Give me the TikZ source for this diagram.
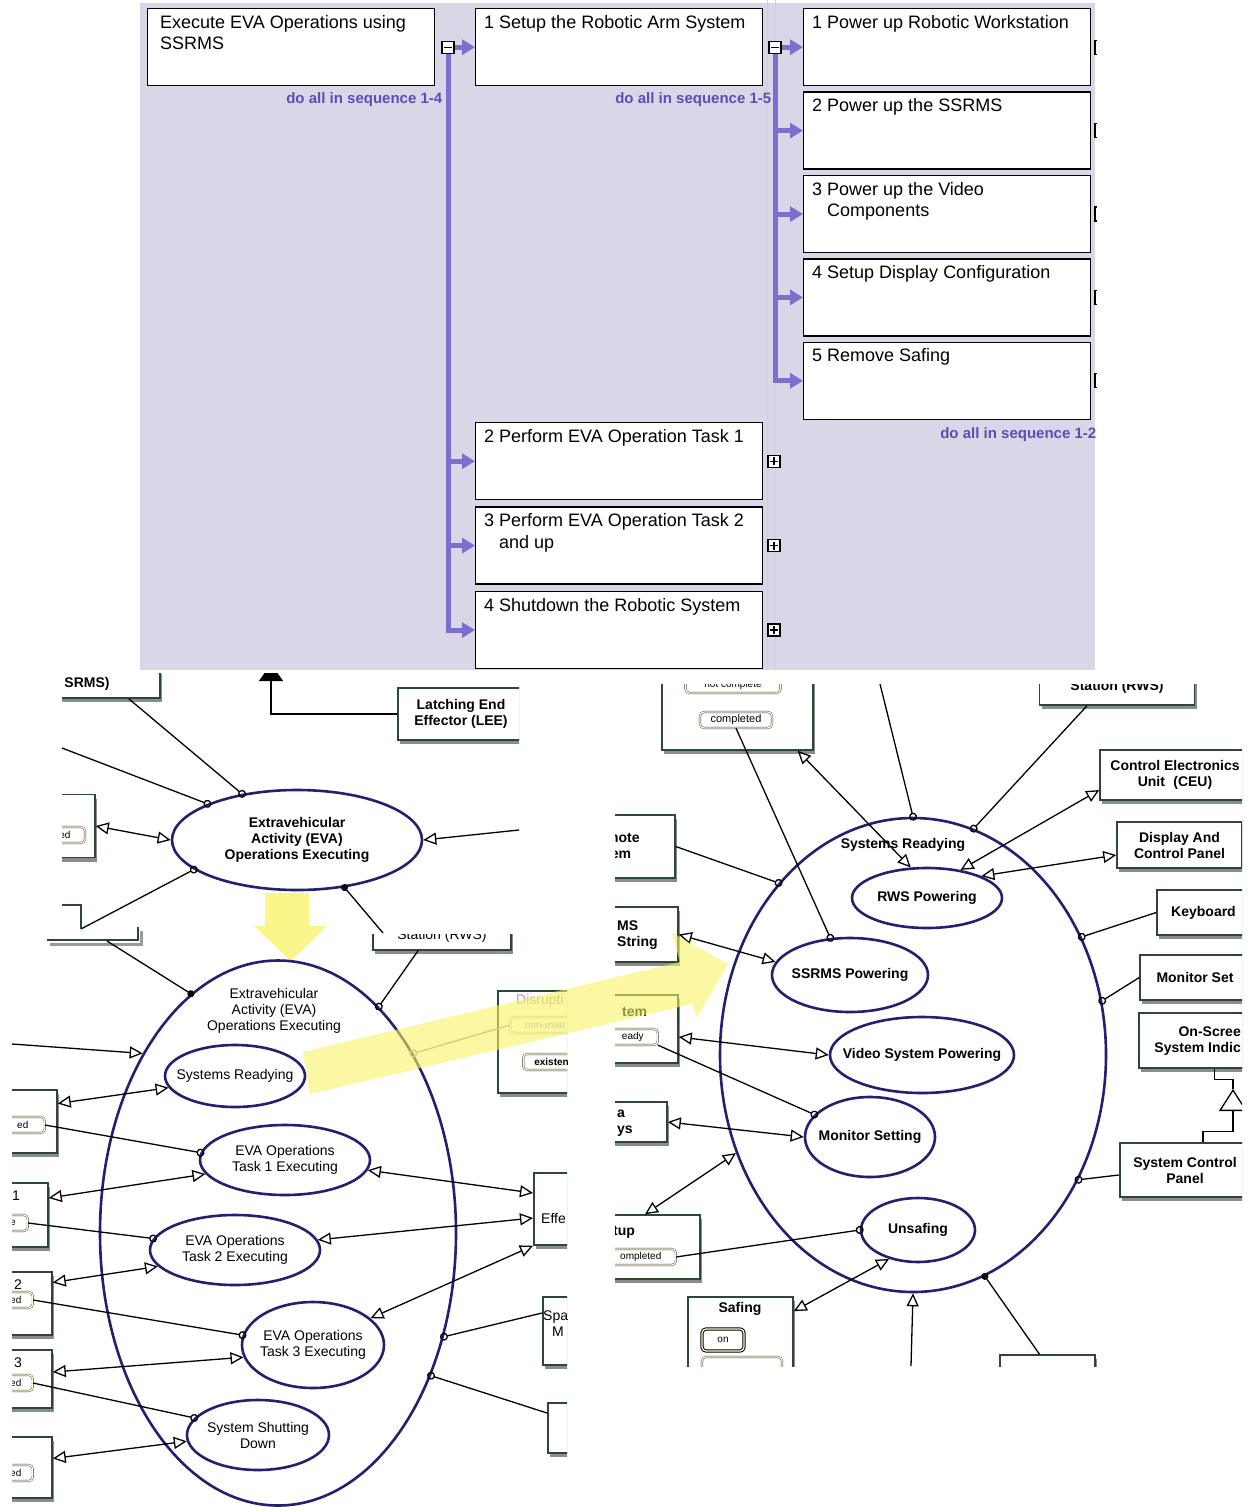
\documentclass[tikz,border=0pt]{standalone}
\usepackage{fontspec}
\setmainfont{Liberation Sans}
\usetikzlibrary{positioning,shapes.geometric,arrows.meta,shadows}

\definecolor{panelbg}{RGB}{217,215,231}
\definecolor{branchc}{RGB}{122,112,205}
\definecolor{seqc}{RGB}{88,80,180}
\definecolor{navy}{RGB}{33,33,112}
\definecolor{boxc}{RGB}{42,72,52}
\definecolor{hilite}{RGB}{250,242,100}
\definecolor{guidec}{RGB}{235,225,60}

\tikzset{
  task/.style={draw, fill=white, line width=1.4pt, minimum width=287pt, minimum height=77pt, inner sep=0pt},
  tasktext/.style={anchor=north west, xshift=9pt, yshift=-7pt, inner sep=0pt, align=left, font=\fontsize{18}{21.5}\selectfont},
  minus/.style={path picture={\draw[line width=1.2pt] ([xshift=2pt]path picture bounding box.west) -- ([xshift=-2pt]path picture bounding box.east);}},
  plus/.style={path picture={\draw[line width=1.2pt] ([xshift=2pt]path picture bounding box.west) -- ([xshift=-2pt]path picture bounding box.east) ([yshift=-2pt]path picture bounding box.north) -- ([yshift=2pt]path picture bounding box.south);}},
  toggle/.style={draw, fill=white, line width=1.3pt, minimum size=12pt, inner sep=0pt},
  branch/.style={draw=branchc, line width=5pt, -{Triangle[length=13pt,width=15pt]}},
  seq/.style={anchor=north east, inner sep=0pt, text=seqc, font=\fontsize{15}{17}\selectfont\bfseries},
  blk/.style={draw=boxc, line width=1.5pt, fill=white, inner sep=0pt, align=center, font=\fontsize{14}{16}\selectfont\bfseries, drop shadow={shadow xshift=2pt, shadow yshift=-4pt, fill=black!45, opacity=1}},
  frag/.style={anchor=west, inner sep=0pt, align=left, font=\fontsize{14}{16}\selectfont\bfseries},
  pill/.style={draw=black!75, double=yellow!15, double distance=1.3pt, fill=white, rounded corners=4pt, inner sep=2.5pt, minimum height=16pt, font=\fontsize{10}{11}\selectfont},
  state/.style={ellipse, draw=navy, line width=2.6pt, fill=white, inner sep=0pt},
  st/.style={label={[align=center, inner sep=0pt, font=\fontsize{14}{16}\selectfont]center:{#1}}},
  stb/.style={label={[align=center, inner sep=0pt, font=\fontsize{14}{16}\selectfont\bfseries]center:{#1}}},
  link/.style={line width=1.3pt},
  both/.style={link, {Triangle[open,length=13pt,width=12pt]}-{Triangle[open,length=13pt,width=12pt]}},
  into/.style={link, -{Triangle[open,length=13pt,width=12pt]}},
  ring/.style={link, -{Circle[open,length=8pt]}, shorten >=-4pt},
  blob/.style={link, -{Circle[length=7pt]}, shorten >=-3.5pt},
  guide/.style={draw=guidec, line width=0.8pt},
  glow/.style={fill=hilite, fill opacity=0.6},
}

\begin{document}
\begin{tikzpicture}[x=1pt,y=-1pt]
\useasboundingbox (0,0) rectangle (1252,1507);
\fill[white] (0,0) rectangle (1252,1507);

% task tree
\fill[panelbg] (140,3) rectangle (1095,670);
\draw[guide] (767,0) -- (767,670) (775,0) -- (775,670);

\node[task, anchor=north west, label={[tasktext, xshift=4pt]north west:{Execute EVA Operations using\\SSRMS}}] (root) at (147,8) {};
\node[toggle, minus, right=6pt of root] (m0) {};
\node[task, anchor=north west, label={[tasktext]north west:1 Setup the Robotic Arm System}] (s1) at (475,8) {};
\node[toggle, minus, right=5pt of s1] (m1) {};
\node[task, anchor=north west, label={[tasktext]north west:2 Perform EVA Operation Task 1}] (s2) at (475,422) {};
\node[task, below=6pt of s2, label={[tasktext]north west:{3 Perform EVA Operation Task 2\\\hphantom{3 }and up}}] (s3) {};
\node[task, below=6pt of s3, label={[tasktext]north west:4 Shutdown the Robotic System}] (s4) {};
\foreach \n in {s2,s3,s4} \node[toggle, plus, right=4pt of \n] (p\n) {};

\node[task, anchor=north west, label={[tasktext]north west:1 Power up Robotic Workstation}] (r1) at (803,8) {};
\node[task, below=5pt of r1, label={[tasktext]north west:2 Power up the SSRMS}] (r2) {};
\node[task, below=5pt of r2, label={[tasktext]north west:{3 Power up the Video\\\hphantom{3 }Components}}] (r3) {};
\node[task, below=5pt of r3, label={[tasktext]north west:4 Setup Display Configuration}] (r4) {};
\node[task, below=5pt of r4, label={[tasktext]north west:5 Remove Safing}] (r5) {};
\foreach \n in {r1,r2,r3,r4,r5}
  \draw[line width=1.3pt] ([xshift=6pt,yshift=7pt]\n.east) -- ++(-2.5pt,0) -- ++(0,-14pt) -- ++(2.5pt,0);

\draw[branch] (m0.east) -- (s1.west);
\foreach \n in {s2,s3,s4} \draw[branch] (m0.south) |- (\n.west);
\draw[branch] (m1.east) -- (r1.west);
\foreach \n in {r2,r3,r4,r5} \draw[branch] (m1.south) |- (\n.west);

\node[seq] (q0) at ([xshift=7pt,yshift=-6pt]root.south east) {do all in sequence 1-4};
\node[seq] (q1) at ([xshift=8pt,yshift=-6pt]s1.south east) {do all in sequence 1-5};
\node[seq] (q2) at ([xshift=5pt,yshift=-7pt]r5.south east) {do all in sequence 1-2};

% EVA operations, outer state
\coordinate (leetip) at (271,664);
\coordinate (lin1) at (62,748);
\coordinate (rin1) at (519,830);
\coordinate (lcorner) at (81,929);
\coordinate (lbot) at (107,941);
\coordinate (rwsfoot) at (383,933);
\begin{scope}
  \clip (62,673) rectangle (519,955);
  \node[blk, minimum width=146pt, minimum height=28pt] (srms) at (87,684) {SRMS)};
  \node[blk, minimum width=126pt, minimum height=52pt] (lee) at (461,714) {Latching End\\Effector (LEE)};
  \node[blk, minimum width=90pt, minimum height=63pt] (lbox) at (50,826) {};
  \node[pill, minimum width=40pt] (lpill) at (65,835) {ed};
  \draw[link, -{Triangle[length=17pt,width=24pt]}] (lee.west) -| (leetip);
\end{scope}
\begin{scope}
  \clip (360,934) rectangle (530,962);
  \node[blk, font=\fontsize{14}{16}\selectfont, minimum width=138pt, minimum height=28pt] (rws0) at (442,936) {Station (RWS)};
\end{scope}
\node[state, minimum width=250pt, minimum height=100pt, stb={Extravehicular\\Activity (EVA)\\Operations Executing}] (eva) at (297,840) {};

\draw[ring] ([xshift=-32pt]srms.south east) -- (eva.140);
\draw[ring] (lin1) -- (eva.158);
\draw[ring] (lcorner) -- (eva.196);
\draw[both] (lbox.east) -- (eva.west);
\draw[into] (rin1) -- (eva.east);
\draw[blob] (rwsfoot) -- (eva.315);
\draw[boxc, line width=1.5pt] (62,905) -| (lcorner);
\draw[black!40, line width=3pt] (50,944) -| (141,931);
\draw[boxc, line width=1.5pt] (47,940) -| (138,927);

\fill[glow, fill opacity=0.75] (265,893) -- (309,893) -- (309,926) -- (327,926) -- (291,961) -- (254,926) -- (265,926) -- cycle;

% EVA operations, substates
\coordinate (lin2) at (12,1044);
\begin{scope}[font=\fontsize{14}{16}\selectfont]
  \clip (12,955) rectangle (567,1507);
  \node[state, minimum width=356pt, minimum height=545pt] (sys) at (278,1233) {};
  \node[align=center, inner sep=0pt] (systitle) at (274,1011) {Extravehicular\\Activity (EVA)\\Operations Executing};
  \node[state, minimum width=140pt, minimum height=62pt, st={Systems Readying}] (sr) at (235,1076) {};
  \node[state, minimum width=170pt, minimum height=70pt, st={EVA Operations\\Task 1 Executing}] (t1e) at (285,1160) {};
  \node[state, minimum width=170pt, minimum height=70pt, st={EVA Operations\\Task 2 Executing}] (t2e) at (235,1250) {};
  \node[state, minimum width=142pt, minimum height=86pt, st={EVA Operations\\Task 3 Executing}] (t3e) at (313,1345) {};
  \node[state, minimum width=142pt, minimum height=70pt, st={System Shutting\\Down}] (sd) at (258,1435) {};

  \node[blk, minimum width=80pt, minimum height=63pt] (lb1) at (17,1121.5) {};
  \node[blk, minimum width=80pt, minimum height=64pt] (lb2) at (8,1215) {};
  \node[blk, minimum width=80pt, minimum height=63pt] (lb3) at (12,1303.5) {};
  \node[blk, minimum width=80pt, minimum height=58pt] (lb4) at (12,1379) {};
  \node[blk, minimum width=80pt, minimum height=61pt] (lb5) at (12,1467.5) {};
  \node[inner sep=0pt] (lb2t) at (16,1196) {1};
  \node[inner sep=0pt] (lb3t) at (18,1285) {2};
  \node[inner sep=0pt] (lb4t) at (18,1363) {3};
  \node[pill, anchor=east, minimum width=44pt] (lp1) at (45,1125) {ed};
  \node[pill, anchor=east, minimum width=30pt] (lp2) at (28,1223) {e};
  \node[pill, anchor=east, minimum width=34pt] (lp3) at (33,1300) {ed};
  \node[pill, anchor=east, minimum width=34pt] (lp4) at (33,1383) {ed};
  \node[pill, anchor=east, minimum width=34pt] (lp5) at (33,1473) {ed};

  \node[blk, anchor=north west, minimum width=90pt, minimum height=102pt] (dis) at (497,990) {};
  \node[frag, font=\fontsize{14}{16}\selectfont, text=black!35] (dist) at (516,1001) {Disrupti};
  \node[pill, anchor=west, draw=black!35, minimum width=70pt, text=black!35] (disp1) at (510,1025) {non-exist};
  \node[pill, anchor=west, minimum width=60pt, font=\fontsize{10}{11}\selectfont\bfseries] (disp2) at (523,1062) {existent};
  \node[blk, anchor=west, minimum width=60pt, minimum height=72pt] (effe) at (533,1209) {};
  \node[frag, font=\fontsize{14}{16}\selectfont] (effet) at (541,1218) {Effe};
  \node[blk, anchor=west, minimum width=50pt, minimum height=68pt] (spa) at (542,1331) {};
  \node[frag, font=\fontsize{14}{16}\selectfont] (spat) at (543,1324) {Spa\\\hspace*{9pt}M};
  \node[blk, anchor=west, minimum width=50pt, minimum height=50pt] (bot) at (547,1428) {};

  \draw[into] (lin2) -- (sys.127);
  \draw[both] ([yshift=18pt]lb1.east) -- (sr.190);
  \draw[ring] (lp1.east) -- (t1e.175);
  \draw[both] ([yshift=17pt]lb2.east) -- (t1e.190);
  \draw[ring] (lp2.east) -- (t2e.172);
  \draw[both] ([yshift=21pt]lb3.east) -- (t2e.192);
  \draw[ring] (lp3.east) -- (t3e.172);
  \draw[both] ([yshift=7pt]lb4.east) -- (t3e.190);
  \draw[ring] (lp4.east) -- (sd.165);
  \draw[both] ([yshift=9pt]lb5.east) -- (sd.185);
  \draw[both] (t1e.353) -- ([yshift=16pt]effe.west);
  \draw[both] (t2e.7) -- ([yshift=-9pt]effe.west);
  \draw[both] (t3e.25) -- (effe.south west);
  \draw[ring] ([yshift=18pt]spa.west) -- (sys.328);
  \draw[ring] ([yshift=15pt]bot.west) -- (sys.317);
  \draw[ring, draw=black!40] (disp1.west) -- (sys.53);
\end{scope}
\draw[blob] (lbot) -- (sys.110);
\draw[ring] ([xshift=-24pt]rws0.south) -- (sys.66);

% systems readying
\coordinate (stattop) at (880,684);
\coordinate (srfoot) at (911,1366);
\begin{scope}[font=\fontsize{14}{16}\selectfont\bfseries]
  \clip (615,684) rectangle (1242,1366);
  \node[state, minimum width=386pt, minimum height=474pt] (sr2) at (913,1055) {};
  \node[inner sep=0pt] (sr2t) at (903,845) {Systems Readying};
  \node[state, minimum width=150pt, minimum height=60pt, stb={RWS Powering}] (rwsp) at (927,898) {};
  \node[state, minimum width=156pt, minimum height=74pt, stb={SSRMS Powering}] (ssp) at (850,975) {};
  \node[state, minimum width=184pt, minimum height=76pt, stb={Video System Powering}] (vsp) at (922,1055) {};
  \node[state, minimum width=130pt, minimum height=80pt, stb={Monitor Setting}] (mset) at (870,1137) {};
  \node[state, minimum width=114pt, minimum height=64pt, stb={Unsafing}] (uns) at (918,1230) {};

  \node[blk, minimum width=151pt, minimum height=90pt] (stat) at (737.5,705) {};
  \node[pill, minimum width=95pt] (statp1) at (733,685) {not complete};
  \node[pill, minimum width=72pt, font=\fontsize{11}{12}\selectfont] (statp2) at (736,720) {completed};
  \node[blk, minimum width=155pt, minimum height=36pt] (rws2) at (1117,687) {Station (RWS)};
  \node[blk, minimum width=150pt, minimum height=50pt] (ceu) at (1175,775) {Control Electronics\\Unit\hspace{0.6em}(CEU)};
  \node[blk, minimum width=125pt, minimum height=46pt] (dcp) at (1179.5,845) {Display And\\Control Panel};
  \node[blk, minimum width=93pt, minimum height=45pt] (kbd) at (1203.5,912.5) {Keyboard};
  \node[blk, minimum width=110pt, minimum height=45pt] (mon) at (1195,977.5) {Monitor Set};
  \node[blk, minimum width=111pt, minimum height=55pt] (osi) at (1194.5,1040.5) {};
  \node[frag, anchor=east, align=right] (osit) at (1241,1041) {On-Scree\\System Indic};
  \node[blk, line width=2.5pt, minimum width=130pt, minimum height=54pt] (scp) at (1185,1170) {System Control\\Panel};

  \node[blk, minimum width=80pt, minimum height=63pt] (note) at (635,846.5) {};
  \node[frag] (notet) at (606,846) {mote\\tem};
  \node[blk, minimum width=80pt, minimum height=55pt] (ssbox) at (638,934.5) {};
  \node[frag] (ssboxt) at (617,935) {MS\\String};
  \node[blk, minimum width=80pt, minimum height=68pt] (tembox) at (638,1029) {};
  \node[frag] (tembt) at (622,1012) {tem};
  \node[pill, anchor=east, minimum width=50pt] (temp) at (658,1037) {eady};
  \node[blk, minimum width=80pt, minimum height=40pt] (abox) at (627,1122) {};
  \node[frag] (aboxt) at (617,1123) {a\\ys};
  \node[blk, minimum width=110pt, minimum height=64pt] (tup) at (645,1247) {};
  \node[frag] (tupt) at (613,1232) {tup};
  \node[pill, anchor=east, minimum width=70pt] (tupp) at (676,1257) {ompleted};
  \node[blk, minimum width=105pt, minimum height=80pt] (saf) at (740.5,1337) {};
  \node[inner sep=0pt] (saft) at (740,1309) {Safing};
  \node[pill, draw=black, line width=1pt, minimum width=42pt, minimum height=22pt] (safp1) at (723,1340) {on};
  \node[pill, minimum width=80pt, minimum height=22pt] (safp2) at (742,1368) {};
  \node[blk, minimum width=95pt, minimum height=50pt] (botr) at (1047.5,1380) {};

  \draw[ring] (stattop) -- (sr2.90);
  \draw[ring] (statp2.south) -- (ssp.118);
  \draw[both] ([xshift=-16pt]stat.south east) -- (rwsp.118);
  \draw[ring] ([xshift=-30pt]rws2.south) -- (sr2.75);
  \draw[both] ([yshift=-15pt]ceu.west) -- (rwsp.40);
  \draw[both] ([yshift=-10pt]dcp.west) -- (rwsp.22);
  \draw[ring] (kbd.west) -- (sr2.35);
  \draw[ring] (mon.west) -- (sr2.16);
  \draw[ring] ([yshift=-5pt]scp.west) -- (sr2.323);
  \draw[ring] (note.east) -- (sr2.128);
  \draw[both] (ssbox.east) -- (ssp.170);
  \draw[both] ([yshift=-8pt]tembox.east) -- (vsp.180);
  \draw[ring] (temp.south east) -- (mset.158);
  \draw[both] (abox.east) -- (mset.180);
  \draw[both] (tup.north) -- (sr2.209);
  \draw[ring] (tupp.east) -- (uns.180);
  \draw[both] ([yshift=-15pt]saf.north east) -- (uns.225);
  \draw[into] (srfoot) -- (sr2.south);
  \draw[blob] ([xshift=-8pt]botr.north) -- (sr2.288);
  \coordinate (gapex) at (1233,1089);
  \draw[link] ([xshift=20pt]osi.south) -- ++(0,-11pt) -| (gapex);
  \draw[link, -{Triangle[open,length=22pt,width=28pt]}] ([xshift=18pt]scp.north) -- ++(0,10pt) -| (gapex);
\end{scope}

% transition highlight
\fill[glow] (303,1052) -- (680,962) -- (672,933) -- (728,964) -- (697,1018) -- (692,1004) -- (310,1094) -- cycle;
\end{tikzpicture}
\end{document}
